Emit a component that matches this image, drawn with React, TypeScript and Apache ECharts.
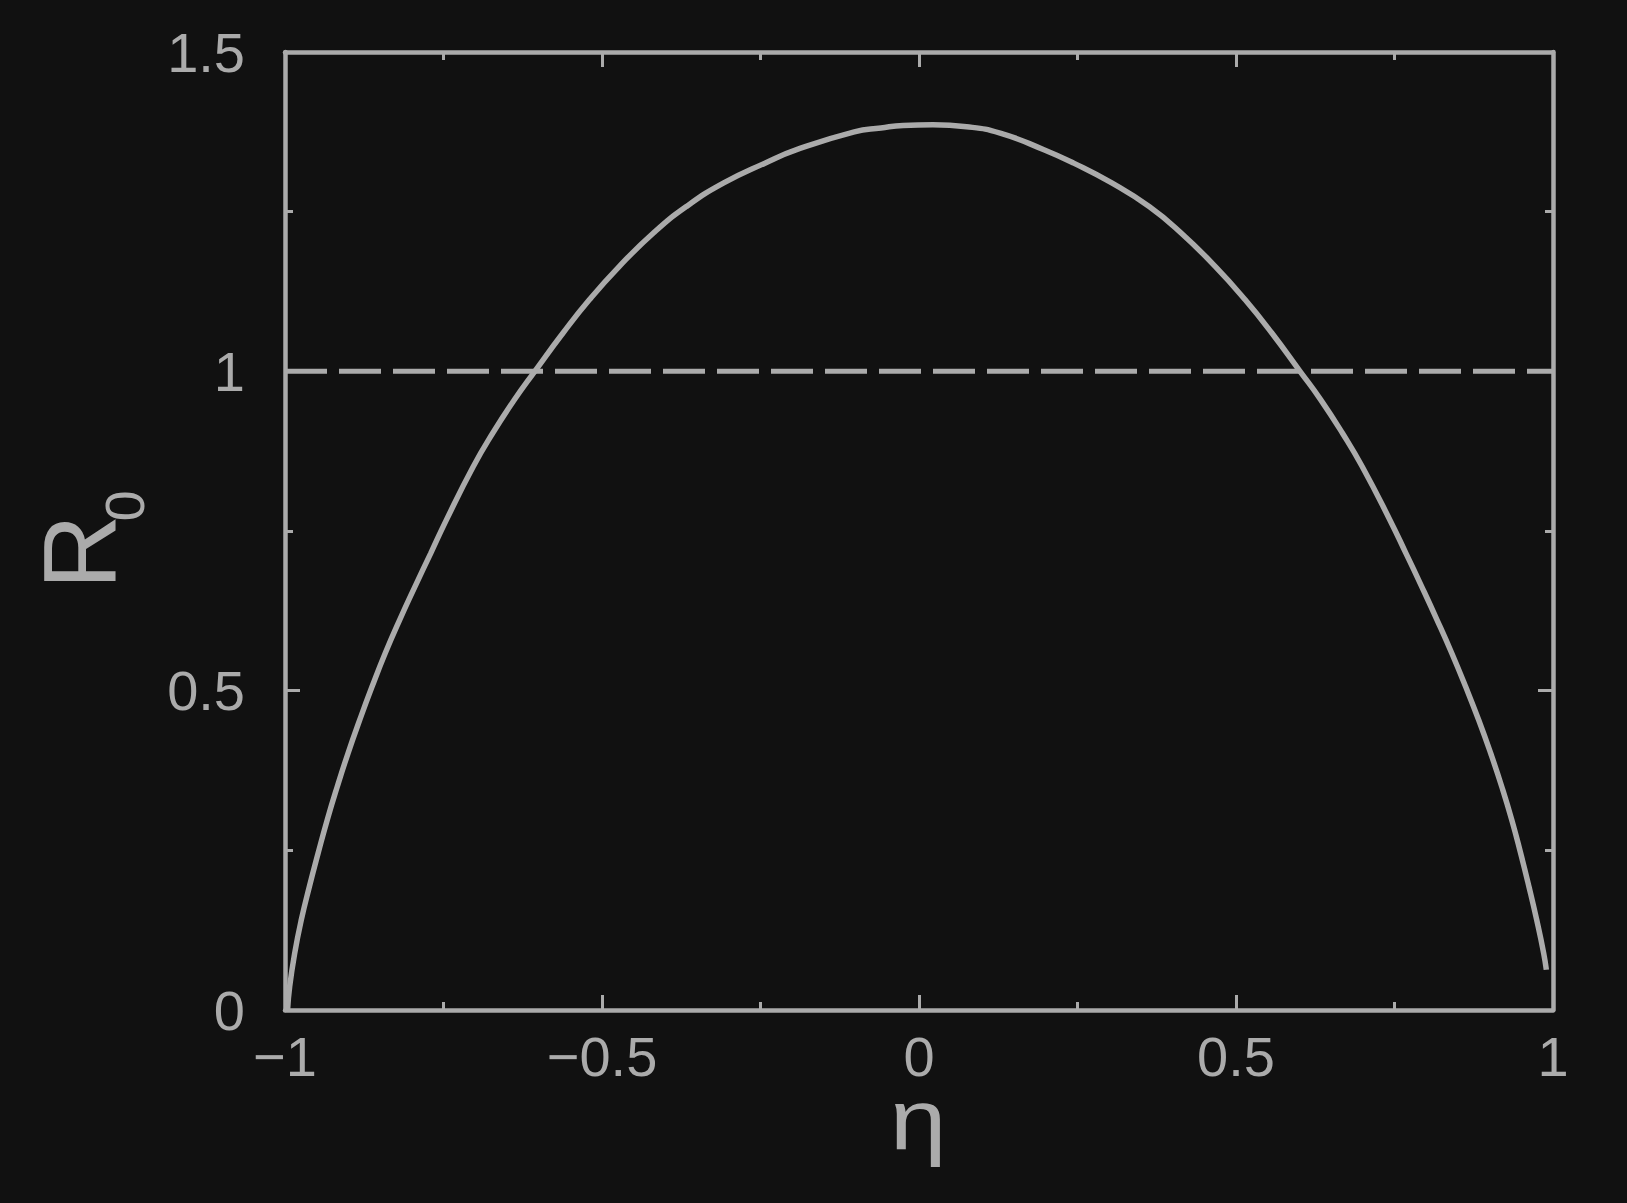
import React, { useEffect, useRef } from "react";
import * as echarts from "echarts";

// Curve R0(eta)
const etaValues = [
  -0.996, -0.9926, -0.9847, -0.9743, -0.9616, -0.9479, -0.9333, -0.9175, -0.9006, -0.8822,
  -0.8628, -0.8418, -0.8191, -0.795, -0.7702, -0.7456, -0.703, -0.6725, -0.6385, -0.606,
  -0.5615, -0.52, -0.473, -0.4185, -0.367, -0.308, -0.243, -0.193, -0.102, -0.06, -0.025,
  0.022, 0.075, 0.128, 0.197, 0.244, 0.304, 0.363, 0.413, 0.4675, 0.5145, 0.5565,
  0.601, 0.634, 0.668, 0.699, 0.7429, 0.7681, 0.7929, 0.817, 0.8402, 0.8623,
  0.8828, 0.9017, 0.9191, 0.9349, 0.9491, 0.9621, 0.9743, 0.9853, 0.9895,
];
const r0Values = [
  0, 0.037, 0.089, 0.141, 0.193, 0.245, 0.298, 0.35, 0.402, 0.454,
  0.506, 0.559, 0.611, 0.663, 0.715, 0.767, 0.851, 0.903, 0.955, 1.0,
  1.06, 1.112, 1.164, 1.217, 1.258, 1.295, 1.326, 1.347, 1.375, 1.381, 1.385,
  1.386, 1.383, 1.373, 1.347, 1.326, 1.295, 1.258, 1.217, 1.164, 1.112, 1.06,
  1.0, 0.955, 0.903, 0.851, 0.767, 0.715, 0.663, 0.611, 0.559, 0.506,
  0.454, 0.402, 0.35, 0.298, 0.245, 0.193, 0.141, 0.089, 0.063,
];
// Threshold line R0 = 1
const thresholdEta = [-1, 1];
const thresholdR0 = [1, 1];

// Axis ranges
const xMin = -1;
const xMax = 1;
const xInterval = 0.5;
const yMin = 0;
const yMax = 1.5;
const yInterval = 0.5;

const xAxisTitle = "η";
const yAxisTitleMain = "R";
const yAxisTitleSub = "0";

const FG = "#ababab";
const BG = "#111111";
const FONT = "'Liberation Sans', Arial, Helvetica, sans-serif";

export default function App() {
  const ref = useRef<HTMLDivElement>(null);
  useEffect(() => {
    if (!ref.current) return;
    const chart = echarts.init(ref.current, undefined, { renderer: "svg" });
    const axisCommon = {
      type: "value" as const,
      axisLine: { show: true, onZero: false, lineStyle: { color: FG, width: 4.5 } },
      axisTick: { show: true, inside: true, length: 15, lineStyle: { color: FG, width: 3 } },
      minorTick: { show: true, splitNumber: 2, length: 8, lineStyle: { color: FG, width: 3 } },
      splitLine: { show: false },
      minorSplitLine: { show: false },
    };
    const fmt = (v: number) => String(v).replace("-", "\u2212");
    chart.setOption({
      animation: false,
      backgroundColor: BG,
      grid: { left: 285, right: 74, top: 52, bottom: 193, containLabel: false },
      xAxis: [
        {
          ...axisCommon,
          position: "bottom",
          min: xMin,
          max: xMax,
          interval: xInterval,
          axisLabel: { color: FG, fontSize: 56, fontFamily: FONT, margin: 18, formatter: fmt },
        },
        {
          ...axisCommon,
          position: "top",
          min: xMin,
          max: xMax,
          interval: xInterval,
          axisLabel: { show: false },
        },
      ],
      yAxis: [
        {
          ...axisCommon,
          position: "left",
          min: yMin,
          max: yMax,
          interval: yInterval,
          axisLabel: { color: FG, fontSize: 56, fontFamily: FONT, margin: 40, formatter: fmt },
        },
        {
          ...axisCommon,
          position: "right",
          min: yMin,
          max: yMax,
          interval: yInterval,
          axisLabel: { show: false },
        },
      ],
      series: [
        {
          type: "line",
          data: thresholdEta.map((x, i) => [x, thresholdR0[i]]),
          showSymbol: false,
          lineStyle: { color: FG, width: 5, type: [42, 12] },
          z: 2,
        },
        {
          type: "line",
          data: etaValues.map((x, i) => [x, r0Values[i]]),
          showSymbol: false,
          smooth: 0.5,
          lineStyle: { color: FG, width: 5.5 },
          z: 3,
        },
      ],
      graphic: [
        {
          type: "text",
          x: 918,
          y: 1120,
          scaleX: 1.2,
          style: {
            text: xAxisTitle,
            fill: FG,
            fontSize: 85,
            lineHeight: 60,
            fontFamily: FONT,
            textAlign: "center",
            textVerticalAlign: "middle",
          },
        },
        {
          type: "text",
          x: 80,
          y: 552,
          rotation: Math.PI / 2,
          style: {
            text: yAxisTitleMain,
            fill: FG,
            fontSize: 104,
            fontFamily: FONT,
            textAlign: "center",
            textVerticalAlign: "middle",
          },
        },
        {
          type: "text",
          x: 124,
          y: 506,
          rotation: Math.PI / 2,
          style: {
            text: yAxisTitleSub,
            fill: FG,
            fontSize: 56,
            fontFamily: FONT,
            textAlign: "center",
            textVerticalAlign: "middle",
          },
        },
      ],
    });
    return () => chart.dispose();
  }, []);
  return (
    <div
      ref={ref}
      style={{ position: "fixed", left: 0, top: 0, width: 1627, height: 1203, background: BG }}
    />
  );
}
